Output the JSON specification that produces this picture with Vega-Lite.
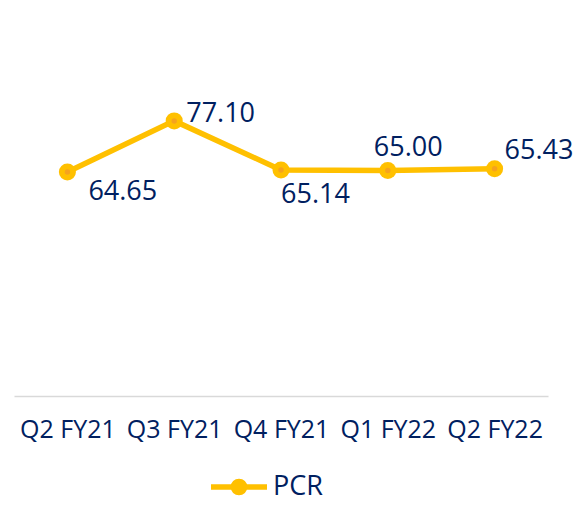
{
  "$schema": "https://vega.github.io/schema/vega-lite/v6.json",
  "width": 534,
  "height": 328,
  "autosize": {"type": "none"},
  "padding": {"left": 14, "top": 68, "right": 35, "bottom": 109},
  "background": "white",
  "config": {"view": {"stroke": null}, "font": "Open Sans"},
  "title": {"text": "PCR (%)", "fontSize": 30, "fontWeight": "bold", "color": "#002060", "font": "Open Sans", "anchor": "middle", "baseline": "alphabetic", "offset": 71, "dx": -13},
  "data": {"values": [
    {"quarter": "Q2 FY21", "pcr": 64.65, "series": "PCR"},
    {"quarter": "Q3 FY21", "pcr": 77.10, "series": "PCR"},
    {"quarter": "Q4 FY21", "pcr": 65.14, "series": "PCR"},
    {"quarter": "Q1 FY22", "pcr": 65.00, "series": "PCR"},
    {"quarter": "Q2 FY22", "pcr": 65.43, "series": "PCR"}
  ]},
  "encoding": {
    "x": {"field": "quarter", "type": "ordinal", "sort": null,
      "scale": {"type": "point", "padding": 0.5},
      "axis": {"title": null, "labelAngle": 0, "labelFontSize": 25, "labelColor": "#002060", "labelFont": "Open Sans", "ticks": false, "tickSize": 0, "domainColor": "#D9D9D9", "domainWidth": 1.5, "labelPadding": 21, "grid": false}},
    "y": {"field": "pcr", "type": "quantitative", "scale": {"domain": [10, 90], "nice": false, "zero": false}, "axis": null}
  },
  "layer": [
    {"mark": {"type": "line", "strokeWidth": 5.5, "color": "#FFC000"},
     "encoding": {"color": {"field": "series", "type": "nominal", "scale": {"range": ["#FFC000"]},
       "legend": {"orient": "none", "legendX": 194, "legendY": 388, "title": null,
         "symbolType": "M-1,0L1,0M-0.2,0A0.2,0.2,0,1,1,0.2,0A0.2,0.2,0,1,1,-0.2,0",
         "symbolSize": 3136, "symbolStrokeWidth": 5.5, "symbolStrokeColor": "#FFC000", "symbolFillColor": "#FFC000", "symbolOpacity": 1,
         "labelFontSize": 27, "labelColor": "#002060", "labelFont": "Open Sans", "padding": 0, "labelOffset": 3,
         "encode": {"symbols": {"update": {"fill": {"value": "#FFC000"}, "stroke": {"value": "#FFC000"}, "strokeWidth": {"value": 5.5}}}}}}}},
    {"mark": {"type": "point", "filled": true, "size": 290, "color": "#FFC000", "opacity": 1}},
    {"mark": {"type": "point", "filled": true, "size": 30, "color": "#F5A31E", "opacity": 1}},
    {"transform": [{"filter": "datum.quarter === 'Q2 FY21'"}],
     "mark": {"type": "text", "align": "left", "baseline": "alphabetic", "dx": 21, "dy": 28, "fontSize": 27, "color": "#002060", "font": "Open Sans"},
     "encoding": {"text": {"field": "pcr", "type": "quantitative", "format": ".2f"}}},
    {"transform": [{"filter": "datum.quarter === 'Q3 FY21'"}],
     "mark": {"type": "text", "align": "left", "baseline": "alphabetic", "dx": 12, "dy": 1, "fontSize": 27, "color": "#002060", "font": "Open Sans"},
     "encoding": {"text": {"field": "pcr", "type": "quantitative", "format": ".2f"}}},
    {"transform": [{"filter": "datum.quarter === 'Q4 FY21'"}],
     "mark": {"type": "text", "align": "left", "baseline": "alphabetic", "dx": 0, "dy": 33, "fontSize": 27, "color": "#002060", "font": "Open Sans"},
     "encoding": {"text": {"field": "pcr", "type": "quantitative", "format": ".2f"}}},
    {"transform": [{"filter": "datum.quarter === 'Q1 FY22'"}],
     "mark": {"type": "text", "align": "left", "baseline": "alphabetic", "dx": -14, "dy": -15, "fontSize": 27, "color": "#002060", "font": "Open Sans"},
     "encoding": {"text": {"field": "pcr", "type": "quantitative", "format": ".2f"}}},
    {"transform": [{"filter": "datum.quarter === 'Q2 FY22'"}],
     "mark": {"type": "text", "align": "left", "baseline": "alphabetic", "dx": 10, "dy": -10, "fontSize": 27, "color": "#002060", "font": "Open Sans"},
     "encoding": {"text": {"field": "pcr", "type": "quantitative", "format": ".2f"}}}
  ]
}
